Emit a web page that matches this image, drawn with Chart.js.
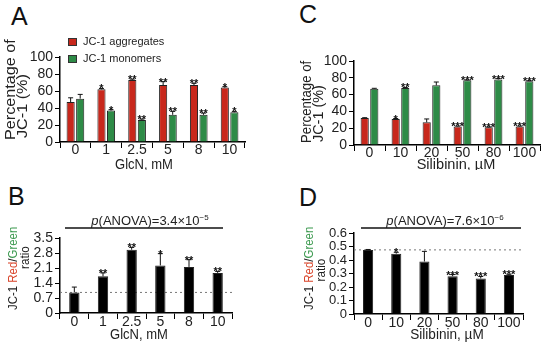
<!DOCTYPE html>
<html>
<head>
<meta charset="utf-8">
<script src="https://cdn.jsdelivr.net/npm/chart.js@4.4.0/dist/chart.umd.min.js"></script>
<style>
body { margin: 0; background: #fff; width: 550px; height: 345px; position: relative; overflow: hidden; font-family: 'Liberation Sans', Arial, sans-serif; }
canvas { position: absolute; }
.lt { position: absolute; font-size: 25px; line-height: 25px; color: #111; }
</style>
</head>
<body>
<div class="lt" style="left:11px;top:4px">A</div>
<div class="lt" style="left:299px;top:2px">C</div>
<div class="lt" style="left:8px;top:184px">B</div>
<div class="lt" style="left:299px;top:185px">D</div>
<canvas id="pa" width="275" height="170" style="left:0;top:0"></canvas>
<canvas id="pc" width="275" height="170" style="left:275px;top:0"></canvas>
<canvas id="pb" width="275" height="175" style="left:0;top:170px"></canvas>
<canvas id="pd" width="275" height="175" style="left:275px;top:170px"></canvas>
<script>
// doses and axis ticks
const glcnDoses = ['0', '1', '2.5', '5', '8', '10'];
const silDoses = ['0', '10', '20', '50', '80', '100'];
const pctTicks = [0, 20, 40, 60, 80, 100];
const ratioTicksB = [0, 0.7, 1.4, 2.1, 2.8, 3.5];
const ratioTicksD = [0, 0.1, 0.2, 0.3, 0.4, 0.5, 0.6];

// A - GlcN, JC-1 percentages
const aggA = [47, 62, 73, 67, 67, 64];
const aggAErr = [5, 1, 1, 4, 2, 1];
const aggAStars = ['', '*', '**', '**', '**', '*'];
const monA = [51, 37, 26, 32, 32, 35];
const monAErr = [5, 1, 1, 4, 2, 1];
const monAStars = ['', '*', '**', '**', '**', '*'];

// C - silibinin, JC-1 percentages
const aggC = [32, 31, 27, 22, 21, 22];
const aggCErr = [0.5, 0.5, 4, 0.5, 0.5, 0.5];
const aggCStars = ['', '*', '', '***', '***', '***'];
const monC = [67, 68, 71, 77, 78, 76];
const monCErr = [0.5, 0.5, 4, 0.5, 1, 0.5];
const monCStars = ['', '**', '', '***', '***', '***'];

// B - GlcN red/green ratio
const ratioB = [0.96, 1.71, 2.95, 2.22, 2.15, 1.87];
const ratioBErr = [0.25, 0.16, 0.11, 0.55, 0.34, 0.07];
const ratioBStars = ['', '**', '**', '*', '**', '**'];

// D - silibinin red/green ratio
const ratioD = [0.475, 0.447, 0.389, 0.28, 0.263, 0.288];
const ratioDErr = [0.003, 0.01, 0.075, 0.012, 0.015, 0.006];
const ratioDStars = ['', '*', '', '***', '***', '***'];

const RED = '#c8281c';
const GREEN = '#2e8b47';
const INK = '#222';
const FAM = "'Liberation Sans', Arial, sans-serif";
Chart.defaults.font.family = FAM;
Chart.defaults.color = INK;

function drawRot(ctx, segs, x, y, size, sx, align) {
  ctx.save();
  ctx.translate(x, y);
  ctx.rotate(-Math.PI / 2);
  ctx.scale(sx, 1);
  ctx.font = size + 'px ' + FAM;
  ctx.textBaseline = 'middle';
  ctx.textAlign = 'left';
  let total = 0;
  segs.forEach(s => total += ctx.measureText(s[0]).width);
  let cx = align === 'center' ? -total / 2 : 0;
  segs.forEach(s => {
    ctx.fillStyle = s[1];
    ctx.fillText(s[0], cx, 0);
    cx += ctx.measureText(s[0]).width;
  });
  ctx.restore();
}

const deco = {
  id: 'deco',
  beforeDatasetsDraw(chart, args, o) {
    if (o.ref == null) return;
    const { ctx, chartArea: a } = chart;
    const py = chart.scales.y.getPixelForValue(o.ref);
    ctx.save();
    ctx.setLineDash([2, 3]);
    ctx.strokeStyle = '#777';
    ctx.lineWidth = 1;
    ctx.beginPath();
    ctx.moveTo(a.left, py);
    ctx.lineTo(a.right, py);
    ctx.stroke();
    ctx.restore();
  },
  afterDatasetsDraw(chart) {
    const { ctx } = chart;
    const y = chart.scales.y;
    ctx.save();
    chart.data.datasets.forEach((ds, i) => {
      chart.getDatasetMeta(i).data.forEach((bar, j) => {
        const cy = y.getPixelForValue(ds.data[j] + ds.err[j]);
        ctx.strokeStyle = '#111';
        ctx.lineWidth = 1;
        ctx.beginPath();
        ctx.moveTo(bar.x, bar.y);
        ctx.lineTo(bar.x, cy);
        ctx.moveTo(bar.x - 2.5, cy);
        ctx.lineTo(bar.x + 2.5, cy);
        ctx.stroke();
        if (ds.stars[j]) {
          ctx.fillStyle = '#111';
          ctx.font = 'bold 11px ' + FAM;
          ctx.textAlign = 'center';
          ctx.textBaseline = 'alphabetic';
          ctx.fillText(ds.stars[j], bar.x, cy + 4);
        }
      });
    });
    ctx.restore();
  },
  afterDraw(chart, args, o) {
    const { ctx } = chart;
    o.yTitle.forEach(t => drawRot(ctx, t.segs, t.x, t.y, t.size, t.sx, t.align));
    ctx.save();
    ctx.translate(o.xTitle.x, o.xTitle.y);
    ctx.scale(o.xTitle.sx, 1);
    ctx.font = o.xTitle.size + 'px ' + FAM;
    ctx.fillStyle = INK;
    ctx.textAlign = 'center';
    ctx.textBaseline = 'middle';
    ctx.fillText(o.xTitle.text, 0, 0);
    ctx.restore();
    if (o.legend) {
      ctx.save();
      chart.data.datasets.forEach((ds, i) => {
        const ly = o.legend.y + i * o.legend.gap;
        ctx.fillStyle = ds.backgroundColor;
        ctx.strokeStyle = '#333';
        ctx.lineWidth = 1;
        ctx.fillRect(o.legend.x, ly - 4, 9, 8);
        ctx.strokeRect(o.legend.x + 0.5, ly - 3.5, 8, 7);
        ctx.fillStyle = INK;
        ctx.font = '11px ' + FAM;
        ctx.textAlign = 'left';
        ctx.textBaseline = 'middle';
        ctx.fillText(ds.label, o.legend.x + 15, ly);
      });
      ctx.restore();
    }
    if (o.anova) {
      const an = o.anova;
      ctx.save();
      ctx.strokeStyle = '#111';
      ctx.lineWidth = 1.5;
      ctx.beginPath();
      ctx.moveTo(an.x1, an.y);
      ctx.lineTo(an.x2, an.y);
      ctx.stroke();
      const parts = [
        ['p', 'italic 13px ' + FAM, 0],
        ['(ANOVA)=' + an.value + '\u00d710', '13px ' + FAM, 0],
        ['\u2212' + an.exp, '8px ' + FAM, -5]
      ];
      let total = 0;
      parts.forEach(p => { ctx.font = p[1]; total += ctx.measureText(p[0]).width; });
      let cx = an.tx - total / 2;
      ctx.fillStyle = INK;
      ctx.textAlign = 'left';
      ctx.textBaseline = 'alphabetic';
      parts.forEach(p => {
        ctx.font = p[1];
        ctx.fillText(p[0], cx, an.ty + p[2]);
        cx += ctx.measureText(p[0]).width;
      });
      ctx.restore();
    }
  }
};

function axes(ticks, box) {
  return {
    x: {
      grid: { display: true, drawOnChartArea: false, offset: true, tickLength: 6, color: '#000', lineWidth: 1 },
      border: { color: '#000', width: 1.5 },
      ticks: { color: INK, font: { size: 14 }, padding: box.xpad, maxRotation: 0, autoSkip: false },
      afterFit: s => { s.height = box.xh; }
    },
    y: {
      min: ticks[0],
      max: ticks[ticks.length - 1],
      afterBuildTicks: s => { s.ticks = ticks.map(v => ({ value: v })); },
      grid: { drawOnChartArea: false, tickLength: 5, color: '#000', lineWidth: 1 },
      border: { color: '#000', width: 1.5 },
      ticks: { color: INK, font: { size: box.yfs }, padding: 2, autoSkip: false, callback: v => String(v) },
      afterFit: s => { s.width = box.yw; }
    }
  };
}

function panel(id, labels, datasets, ticks, box, deco_opts, barOpts) {
  return new Chart(document.getElementById(id), {
    type: 'bar',
    data: { labels: labels, datasets: datasets },
    options: {
      responsive: false,
      animation: false,
      datasets: { bar: Object.assign({ borderColor: '#222', borderWidth: 1 }, barOpts) },
      layout: { padding: { left: 0, top: box.top, right: box.right, bottom: 0 } },
      scales: axes(ticks, box),
      plugins: { legend: { display: false }, tooltip: { enabled: false }, deco: deco_opts }
    },
    plugins: [deco]
  });
}

const ratioTitle = [
  ['JC-1 ', INK], ['Red', '#d9442a'], ['/', INK], ['Green', '#3d9a50']
];

panel('pa', glcnDoses, [
  { label: 'JC-1 aggregates', data: aggA, err: aggAErr, stars: aggAStars, backgroundColor: RED },
  { label: 'JC-1 monomers', data: monA, err: monAErr, stars: monAStars, backgroundColor: GREEN }
], pctTicks, { top: 57, right: 30, yw: 60, xh: 28, xpad: -6, yfs: 14 }, {
  yTitle: [
    { segs: [['Percentage of', INK]], x: 10.5, y: 140, size: 15, sx: 1.08 },
    { segs: [['JC-1 (%)', INK]], x: 23, y: 138, size: 15, sx: 1.08 }
  ],
  xTitle: { text: 'GlcN, mM', x: 144, y: 165, size: 14, sx: 0.93 },
  legend: { x: 68, y: 42, gap: 17 }
}, { categoryPercentage: 0.62, barPercentage: 0.85 });

panel('pc', silDoses, [
  { label: 'JC-1 aggregates', data: aggC, err: aggCErr, stars: aggCStars, backgroundColor: RED },
  { label: 'JC-1 monomers', data: monC, err: monCErr, stars: monCStars, backgroundColor: GREEN }
], pctTicks, { top: 61, right: 10, yw: 79, xh: 25, xpad: -6, yfs: 14 }, {
  yTitle: [
    { segs: [['Percentage of', INK]], x: 32, y: 143, size: 15, sx: 0.88 },
    { segs: [['JC-1 (%)', INK]], x: 44, y: 142, size: 15, sx: 0.96 }
  ],
  xTitle: { text: 'Silibinin, \u00b5M', x: 181, y: 165, size: 15, sx: 0.97 }
}, { categoryPercentage: 0.62, barPercentage: 0.85 });

panel('pb', glcnDoses, [
  { label: 'Red/Green ratio', data: ratioB, err: ratioBErr, stars: ratioBStars, backgroundColor: '#000' }
], ratioTicksB, { top: 68, right: 43, yw: 60, xh: 32, xpad: -5, yfs: 14 }, {
  yTitle: [
    { segs: ratioTitle, x: 13, y: 140, size: 13, sx: 0.88 },
    { segs: [['ratio', INK]], x: 25, y: 87.5, size: 13, sx: 0.9, align: 'center' }
  ],
  xTitle: { text: 'GlcN, mM', x: 139, y: 165, size: 14, sx: 0.93 },
  ref: ratioB[0],
  anova: { value: '3.4', exp: '5', x1: 65, x2: 223, y: 58, tx: 150, ty: 55 }
}, { categoryPercentage: 0.36, barPercentage: 1 });

panel('pd', silDoses, [
  { label: 'Red/Green ratio', data: ratioD, err: ratioDErr, stars: ratioDStars, backgroundColor: '#000' }
], ratioTicksD, { top: 63, right: 27, yw: 79, xh: 31, xpad: -5, yfs: 13 }, {
  yTitle: [
    { segs: ratioTitle, x: 34, y: 140, size: 13, sx: 0.88 },
    { segs: [['ratio', INK]], x: 46, y: 100, size: 13, sx: 0.9, align: 'center' }
  ],
  xTitle: { text: 'Silibinin, \u00b5M', x: 172, y: 165, size: 14, sx: 0.97 },
  ref: ratioD[0],
  anova: { value: '7.6', exp: '6', x1: 86, x2: 246, y: 58, tx: 170, ty: 55 }
}, { categoryPercentage: 0.36, barPercentage: 1 });
</script>
</body>
</html>
